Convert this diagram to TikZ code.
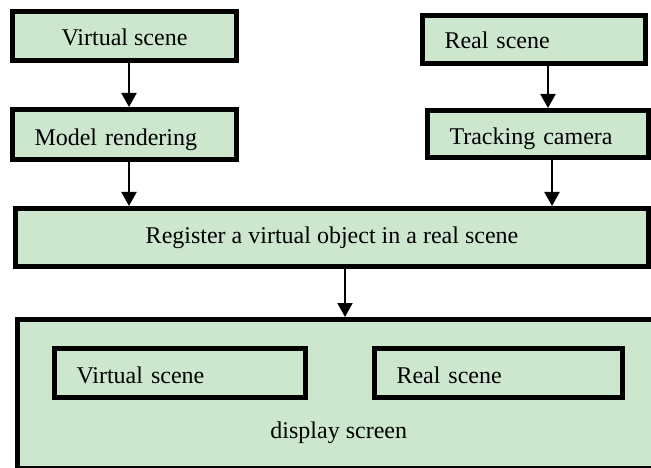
\documentclass[tikz,border=0pt]{standalone}
\usepackage{fontspec}
\setmainfont{Liberation Serif}
\usetikzlibrary{
arrows.meta,
calc,
positioning
}
\definecolor{boxgreen}{RGB}{205,231,207}
\tikzset{>={Triangle[width=15pt,length=14pt]}}

\begin{document}
\begin{tikzpicture}[x=1pt, y=-1pt, node distance=44pt, font=\fontsize{24pt}{28pt}\selectfont,
	box/.style={draw, line width=5pt, fill=boxgreen, inner sep=0pt},
	lbox/.style={box, align=left, inner xsep=22pt, text height=20pt, text depth=0pt},
	flow/.style={->, line width=2pt}]
	\useasboundingbox (0,0) rectangle (651,468);
	\clip (0,0) rectangle (651,468);

	% two input chains
	\node[box, minimum width=224pt, minimum height=49pt, text height=20pt, text depth=0pt] (vscene) at (124.5,36) {Virtual scene};
	\node[lbox, text width=180pt, minimum height=50pt, text height=23pt, below=of vscene] (render) {Model rendering};
	\node[lbox, text width=179pt, minimum height=48pt, text height=19pt] (rscene) at (534,39.5) {Real scene};
	\node[lbox, text width=177pt, minimum height=47pt, text height=22pt, below=42pt of rscene, xshift=4pt] (tracking) {Tracking camera};

	\node[box, minimum width=633pt, minimum height=58pt] (register) at (332,237.5) {Register a virtual object in a real scene};

	% screen with both scenes inside
	\node[box, minimum width=642.5pt, minimum height=149pt] (display) at (338.75,394) {};
	\node[lbox, text width=207pt, minimum height=49pt] (dvscene) at (180,373) {Virtual scene};
	\node[lbox, text width=204pt, minimum height=49pt, right=64pt of dvscene] (drscene) {Real scene};
	\node[anchor=base] (disptext) at ([yshift=33pt]display.south) {display screen};

	\draw[flow] ([xshift=4.5pt]vscene.south) -- ([xshift=4.5pt]render.north);
	\draw[flow] ([xshift=4.5pt]render.south) -- ([xshift=4.5pt]render.south |- register.north);
	\draw[flow] ([xshift=14pt]rscene.south) -- ([xshift=14pt]rscene.south |- tracking.north);
	\draw[flow] ([xshift=14pt]tracking.south) -- ([xshift=14pt]tracking.south |- register.north);
	\draw[flow] ([xshift=13pt]register.south) -- ([xshift=13pt]register.south |- display.north);
\end{tikzpicture}
\end{document}
